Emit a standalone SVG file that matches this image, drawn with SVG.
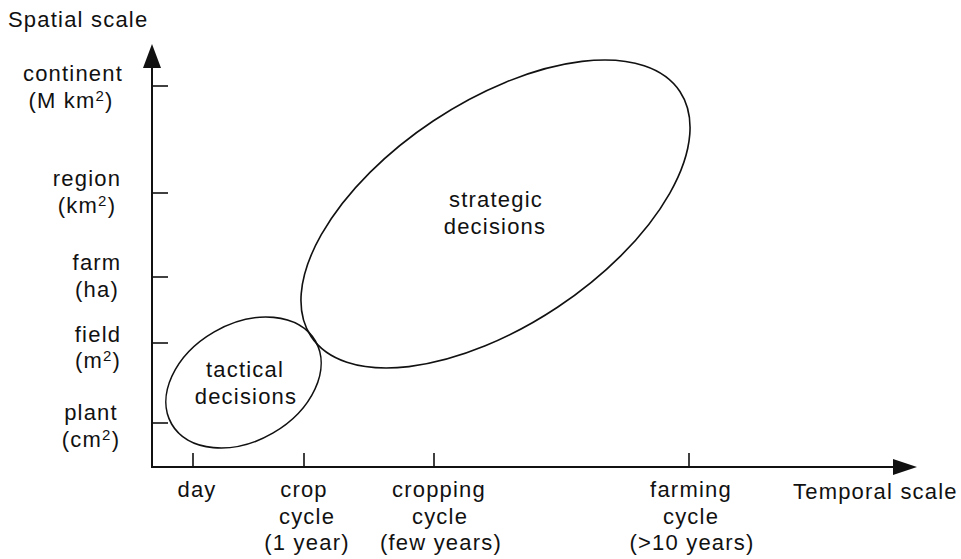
<svg xmlns="http://www.w3.org/2000/svg" width="961" height="559" viewBox="0 0 961 559">
<style>
text{font-family:"Liberation Sans",Arial,Helvetica,sans-serif;font-size:22px;fill:#111;letter-spacing:1.2px}
.m{text-anchor:middle}
.sup{font-size:15px}
.ax{stroke:#111;stroke-width:2;fill:none}
.tk{stroke:#111;stroke-width:1.6;fill:none}
.el{stroke:#111;stroke-width:1.6;fill:none}
.ah{fill:#111}
</style>
<rect width="961" height="559" fill="#fff"/>
<g id="axes">
  <line class="ax" x1="152" y1="62" x2="152" y2="468"/>
  <line class="ax" x1="151" y1="467" x2="898" y2="467"/>
  <polygon class="ah" points="152,44 143,68 161,68"/>
  <polygon class="ah" points="917,467 893,459 893,475"/>
  <line class="tk" x1="152" y1="86" x2="168" y2="86"/>
  <line class="tk" x1="152" y1="193" x2="168" y2="193"/>
  <line class="tk" x1="152" y1="277" x2="168" y2="277"/>
  <line class="tk" x1="152" y1="343" x2="168" y2="343"/>
  <line class="tk" x1="152" y1="423" x2="168" y2="423"/>
  <line class="tk" x1="193" y1="453" x2="193" y2="467"/>
  <line class="tk" x1="304" y1="453" x2="304" y2="467"/>
  <line class="tk" x1="434" y1="453" x2="434" y2="467"/>
  <line class="tk" x1="689" y1="453" x2="689" y2="467"/>
</g>
<g id="axis-labels">
  <text x="8" y="27">Spatial scale</text>
  <text x="793" y="499">Temporal scale</text>
  <text class="m" x="73" y="81">continent</text>
  <text class="m" x="71" y="108">(M km<tspan class="sup" dy="-7">2</tspan><tspan dy="7">)</tspan></text>
  <text class="m" x="87" y="186">region</text>
  <text class="m" x="87" y="213">(km<tspan class="sup" dy="-7">2</tspan><tspan dy="7">)</tspan></text>
  <text class="m" x="97" y="270">farm</text>
  <text class="m" x="97" y="297">(ha)</text>
  <text class="m" x="98" y="342">field</text>
  <text class="m" x="98" y="368">(m<tspan class="sup" dy="-7">2</tspan><tspan dy="7">)</tspan></text>
  <text class="m" x="91" y="420">plant</text>
  <text class="m" x="91" y="447">(cm<tspan class="sup" dy="-7">2</tspan><tspan dy="7">)</tspan></text>
  <text class="m" x="197" y="497">day</text>
  <text class="m" x="304" y="497">crop</text>
  <text class="m" x="307" y="524">cycle</text>
  <text class="m" x="307" y="550">(1 year)</text>
  <text class="m" x="439" y="497">cropping</text>
  <text class="m" x="440" y="524">cycle</text>
  <text class="m" x="441" y="550">(few years)</text>
  <text class="m" x="691" y="497">farming</text>
  <text class="m" x="691" y="524">cycle</text>
  <text class="m" x="692" y="550">(&gt;10 years)</text>
</g>
<g id="tactical">
  <ellipse class="el" cx="0" cy="0" rx="83" ry="58.5" transform="translate(243.5,382.5) rotate(-30)"/>
  <text class="m" x="245" y="377">tactical</text>
  <text class="m" x="246" y="404">decisions</text>
</g>
<g id="strategic">
  <ellipse class="el" cx="0" cy="0" rx="221.4" ry="112" transform="translate(495.5,214) rotate(-33.6)"/>
  <text class="m" x="496" y="207">strategic</text>
  <text class="m" x="495" y="234">decisions</text>
</g>
</svg>
